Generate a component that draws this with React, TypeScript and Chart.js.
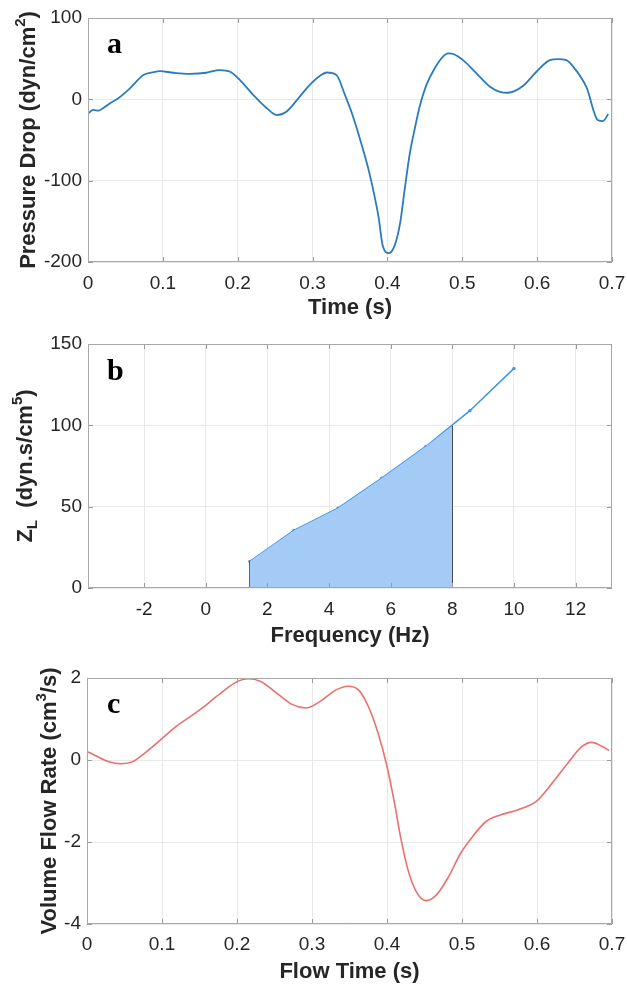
import React, { useEffect, useRef } from 'react';
import { Chart, registerables } from 'chart.js';
Chart.register(...registerables);

// ---------- Panel a: pressure drop ----------
const timeA = [0.000, 0.007, 0.014, 0.020, 0.029, 0.040, 0.056, 0.074, 0.086, 0.096, 0.114, 0.136, 0.158, 0.176, 0.190, 0.203, 0.221, 0.239, 0.252, 0.265, 0.279, 0.296, 0.310, 0.319, 0.332, 0.343, 0.354, 0.365, 0.376, 0.388, 0.394, 0.402, 0.410, 0.417, 0.423, 0.430, 0.437, 0.443, 0.452, 0.463, 0.474, 0.481, 0.488, 0.501, 0.519, 0.537, 0.550, 0.561, 0.581, 0.599, 0.617, 0.628, 0.639, 0.650, 0.666, 0.681, 0.688, 0.695];
const pressureA = [-17.5, -13, -14, -11, -5, 1, 13.5, 29.8, 33, 34.7, 32.7, 31.4, 32.7, 36, 33.9, 23.7, 5.3, -11, -19.3, -15.2, -1, 17.5, 29, 33, 29.8, 6, -21, -54, -91, -144, -181, -189, -179, -152, -111, -66, -34, -9, 17.5, 38, 52.3, 56.5, 55.7, 48.2, 31.9, 15.5, 9.3, 8.1, 16.3, 33.9, 48.2, 49.5, 48.2, 38, 14.7, -25.4, -26.7, -18];
const xTicksA = [0, 0.1, 0.2, 0.3, 0.4, 0.5, 0.6, 0.7];
const yTicksA = [-200, -100, 0, 100];

// ---------- Panel b: impedance ----------
const freqB = [1.43, 2.86, 4.29, 5.71, 7.14, 8.57, 10.0];
const impedanceB = [16.4, 35.4, 49.1, 67.5, 87, 109, 135];
const fillFreqB = [1.43, 2.86, 4.29, 5.71, 7.14, 8.0];
const fillImpB = [16.4, 35.4, 49.1, 67.5, 87, 99.6];
const xTicksB = [-2, 0, 2, 4, 6, 8, 10, 12];
const yTicksB = [0, 50, 100, 150];

// ---------- Panel c: flow rate ----------
const timeC = [0.000, 0.013, 0.029, 0.045, 0.061, 0.077, 0.098, 0.119, 0.141, 0.162, 0.183, 0.199, 0.215, 0.231, 0.253, 0.274, 0.292, 0.311, 0.332, 0.348, 0.362, 0.375, 0.388, 0.399, 0.410, 0.418, 0.428, 0.439, 0.452, 0.466, 0.482, 0.498, 0.514, 0.532, 0.551, 0.572, 0.599, 0.620, 0.641, 0.660, 0.673, 0.687, 0.696];
const flowC = [0.21, 0.09, -0.04, -0.09, -0.04, 0.17, 0.49, 0.82, 1.10, 1.39, 1.70, 1.90, 1.98, 1.92, 1.63, 1.35, 1.27, 1.43, 1.71, 1.80, 1.71, 1.31, 0.66, -0.08, -1.05, -1.87, -2.68, -3.21, -3.43, -3.29, -2.85, -2.28, -1.87, -1.50, -1.34, -1.23, -1.01, -0.57, -0.08, 0.33, 0.43, 0.33, 0.23];
const xTicksC = [0, 0.1, 0.2, 0.3, 0.4, 0.5, 0.6, 0.7];
const yTicksC = [-4, -2, 0, 2];

// ---------- Text ----------
const yTitleA = [{ t: 'Pressure Drop (dyn/cm' }, { t: '2', m: 'sup' }, { t: ')' }];
const yTitleB = [{ t: 'Z' }, { t: 'L', m: 'sub' }, { t: '  (dyn.s/cm' }, { t: '5', m: 'sup' }, { t: ')' }];
const yTitleC = [{ t: 'Volume Flow Rate (cm' }, { t: '3', m: 'sup' }, { t: '/s)' }];
const xTitleA = [{ t: 'Time (s)' }];
const xTitleB = [{ t: 'Frequency (Hz)' }];
const xTitleC = [{ t: 'Flow Time (s)' }];

const SANS = '"Liberation Sans", Arial, sans-serif';
const SERIF = '"Liberation Serif", "Times New Roman", serif';
const TEXT = '#262626';

type Part = { t: string; m?: string };

function drawRich(ctx: CanvasRenderingContext2D, parts: Part[], cx: number, cy: number, rotate: boolean, size: number) {
  ctx.save();
  ctx.translate(cx, cy);
  if (rotate) ctx.rotate(-Math.PI / 2);
  const small = Math.round(size * 0.68);
  const fonts = parts.map((p) => `bold ${p.m ? small : size}px ${SANS}`);
  const widths = parts.map((p, i) => { ctx.font = fonts[i]; return ctx.measureText(p.t).width; });
  const total = widths.reduce((a, b) => a + b, 0);
  let x = -total / 2;
  ctx.textBaseline = 'middle';
  ctx.textAlign = 'left';
  ctx.fillStyle = TEXT;
  parts.forEach((p, i) => {
    ctx.font = fonts[i];
    const dy = p.m === 'sup' ? -size * 0.38 : p.m === 'sub' ? size * 0.32 : 0;
    ctx.fillText(p.t, x, dy);
    x += widths[i];
  });
  ctx.restore();
}

type Deco = {
  letter: string; letterX: number; letterY: number;
  yTitle: Part[]; yTitleX: number;
  xTitle: Part[]; xTitleY: number;
};

function framePlugin(d: Deco) {
  return {
    id: 'frame',
    afterDraw(chart: any) {
      const { ctx, chartArea: a } = chart;
      const xs = chart.scales.x;
      const ys = chart.scales.y;
      ctx.save();
      ctx.lineWidth = 1;
      ctx.strokeStyle = '#9a9a9a';
      ctx.beginPath();
      xs.ticks.forEach((t: any) => {
        const px = Math.round(xs.getPixelForValue(t.value)) + 0.5;
        ctx.moveTo(px, a.bottom); ctx.lineTo(px, a.bottom - 5);
        ctx.moveTo(px, a.top); ctx.lineTo(px, a.top + 5);
      });
      ys.ticks.forEach((t: any) => {
        const py = Math.round(ys.getPixelForValue(t.value)) + 0.5;
        ctx.moveTo(a.left, py); ctx.lineTo(a.left + 5, py);
        ctx.moveTo(a.right, py); ctx.lineTo(a.right - 5, py);
      });
      ctx.stroke();
      ctx.strokeStyle = '#a8a8a8';
      ctx.strokeRect(Math.round(a.left) + 0.5, Math.round(a.top) + 0.5, Math.round(a.right - a.left) - 1, Math.round(a.bottom - a.top) - 1);
      // panel letter
      ctx.fillStyle = '#000';
      ctx.font = `bold 30px ${SERIF}`;
      ctx.textAlign = 'left';
      ctx.textBaseline = 'alphabetic';
      ctx.fillText(d.letter, d.letterX, d.letterY);
      ctx.restore();
      drawRich(ctx, d.yTitle, d.yTitleX, (a.top + a.bottom) / 2, true, 22);
      drawRich(ctx, d.xTitle, (a.left + a.right) / 2, d.xTitleY, false, 22);
    },
  };
}

function axis(min: number, max: number, ticks: number[], size: number, isY: boolean, pad: number) {
  return {
    type: 'linear',
    min, max,
    afterBuildTicks: (s: any) => { s.ticks = ticks.map((v) => ({ value: v })); },
    afterFit: (s: any) => {
      if (isY) { s.width = size; s.paddingTop = 0; s.paddingBottom = 0; }
      else { s.height = size; s.paddingLeft = 0; s.paddingRight = 0; }
    },
    grid: { color: '#e9e9e9', drawTicks: false, lineWidth: 1 },
    border: { display: false },
    ticks: {
      autoSkip: false, maxRotation: 0, padding: pad, color: TEXT,
      font: { family: SANS, size: 19 },
      callback: (v: any) => String(v),
    },
  };
}

function Panel({ top, height, build }: { top: number; height: number; build: () => any }) {
  const ref = useRef<HTMLCanvasElement>(null);
  useEffect(() => {
    const chart = new Chart(ref.current as HTMLCanvasElement, build());
    return () => chart.destroy();
  }, []);
  return (
    <canvas ref={ref} width={627} height={height}
      style={{ position: 'absolute', left: 0, top, width: 627, height, display: 'block' }} />
  );
}

const baseOpts = (padTop: number, x: any, y: any) => ({
  responsive: false,
  animation: false,
  devicePixelRatio: 1,
  layout: { padding: { top: padTop, right: 15, left: 0, bottom: 0 } },
  plugins: { legend: { display: false }, tooltip: { enabled: false } },
  scales: { x, y },
});

const buildA = () => ({
  type: 'line',
  data: {
    datasets: [{
      data: timeA.map((t, i) => ({ x: t, y: pressureA[i] })),
      borderColor: '#2b7bbb', borderWidth: 1.8, pointRadius: 0, fill: false,
      cubicInterpolationMode: 'monotone',
    }],
  },
  options: baseOpts(18, axis(0, 0.7, xTicksA, 64, false, 10), axis(-200, 100, yTicksA, 88, true, 6)),
  plugins: [framePlugin({ letter: 'a', letterX: 107, letterY: 53, yTitle: yTitleA, yTitleX: 29, xTitle: xTitleA, xTitleY: 308 })],
});

const buildB = () => ({
  type: 'line',
  data: {
    datasets: [
      {
        data: fillFreqB.map((f, i) => ({ x: f, y: fillImpB[i] })),
        borderWidth: 0, borderColor: 'rgba(0,0,0,0)', backgroundColor: '#a3cbf6', pointRadius: 0, fill: 'origin',
      },
      {
        data: [{ x: fillFreqB[0], y: 0 }, { x: fillFreqB[0], y: fillImpB[0] }],
        borderColor: '#333', borderWidth: 1.2, pointRadius: 0, fill: false,
      },
      {
        data: [{ x: fillFreqB[fillFreqB.length - 1], y: 0 }, { x: fillFreqB[fillFreqB.length - 1], y: fillImpB[fillImpB.length - 1] }],
        borderColor: '#333', borderWidth: 1.2, pointRadius: 0, fill: false,
      },
      {
        data: freqB.map((f, i) => ({ x: f, y: impedanceB[i] })),
        borderColor: '#3d93e6', backgroundColor: '#3d93e6', borderWidth: 1.5, pointRadius: 1.6, pointBorderWidth: 0, fill: false,
      },
    ],
  },
  options: baseOpts(18, axis(-3.82, 13.18, xTicksB, 64, false, 10), axis(0, 150, yTicksB, 88, true, 6)),
  plugins: [framePlugin({ letter: 'b', letterX: 107, letterY: 54, yTitle: yTitleB, yTitleX: 26, xTitle: xTitleB, xTitleY: 310 })],
});

const buildC = () => ({
  type: 'line',
  data: {
    datasets: [{
      data: timeC.map((t, i) => ({ x: t, y: flowC[i] })),
      borderColor: '#e9716b', borderWidth: 1.6, pointRadius: 0, fill: false,
      cubicInterpolationMode: 'monotone',
    }],
  },
  options: baseOpts(26, axis(0, 0.7, xTicksC, 61, false, 9), axis(-4, 2, yTicksC, 87, true, 6)),
  plugins: [framePlugin({ letter: 'c', letterX: 107, letterY: 61, yTitle: yTitleC, yTitleX: 50, xTitle: xTitleC, xTitleY: 320 })],
});

export default function App() {
  return (
    <div style={{ position: 'absolute', left: 0, top: 0, width: 627, height: 985, background: '#fff' }}>
      <Panel top={0} height={326} build={buildA} />
      <Panel top={326} height={326} build={buildB} />
      <Panel top={652} height={333} build={buildC} />
    </div>
  );
}
